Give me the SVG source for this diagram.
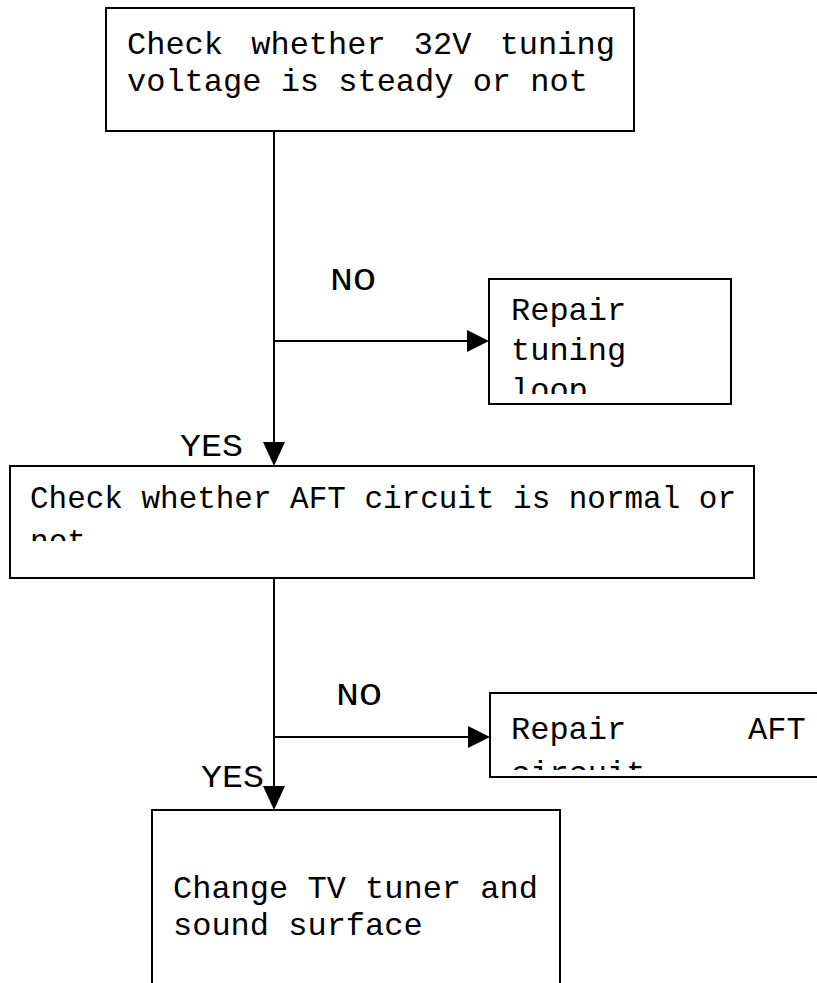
<svg xmlns="http://www.w3.org/2000/svg" width="817" height="983" viewBox="0 0 817 983">
<style>
.box{fill:#fff;stroke:#000;stroke-width:2}
.t{font-family:"Liberation Mono","Courier New",monospace;font-size:32px;fill:#000}
.lbl{font-family:"Liberation Mono","Courier New",monospace;font-size:31px;fill:#000}
.ln{stroke:#000;stroke-width:2;fill:none}
</style>
<defs>
<clipPath id="c2"><rect x="490" y="280" width="240" height="114"/></clipPath>
<clipPath id="c3"><rect x="11" y="467" width="742" height="74"/></clipPath>
<clipPath id="c4"><rect x="491" y="694" width="326" height="76"/></clipPath>
</defs>
<g id="connectors">
<line class="ln" x1="274" y1="131" x2="274" y2="444"/>
<path d="M263,442 L285,442 L274,466 Z" fill="#000"/>
<line class="ln" x1="274" y1="341" x2="468" y2="341"/>
<path d="M467,330 L489,341 L467,352 Z" fill="#000"/>
<line class="ln" x1="274" y1="578" x2="274" y2="788"/>
<path d="M263,786 L285,786 L274,810 Z" fill="#000"/>
<line class="ln" x1="274" y1="737" x2="469" y2="737"/>
<path d="M468,726 L490,737 L468,748 Z" fill="#000"/>
<text class="lbl" x="330" y="290" textLength="46" lengthAdjust="spacingAndGlyphs">NO</text>
<text class="lbl" x="180" y="456" textLength="63" lengthAdjust="spacingAndGlyphs">YES</text>
<text class="lbl" x="336" y="705" textLength="46" lengthAdjust="spacingAndGlyphs">NO</text>
<text class="lbl" x="201" y="787" textLength="63" lengthAdjust="spacingAndGlyphs">YES</text>
</g>
<g id="n1">
<rect class="box" x="106" y="8" width="528" height="123"/>
<text class="t" x="127" y="54" word-spacing="9">Check whether 32V tuning</text>
<text class="t" x="127" y="91">voltage is steady or not</text>
</g>
<g id="n2">
<rect class="box" x="489" y="279" width="242" height="125"/>
<g clip-path="url(#c2)">
<text class="t" x="511" y="320">Repair</text>
<text class="t" x="511" y="360">tuning</text>
<text class="t" x="511" y="400">loop</text>
</g>
</g>
<g id="n3">
<rect class="box" x="10" y="466" width="744" height="112"/>
<g clip-path="url(#c3)">
<text class="t" x="30" y="508" textLength="706" lengthAdjust="spacingAndGlyphs">Check whether AFT circuit is normal or</text>
<text class="t" x="30" y="551" textLength="56" lengthAdjust="spacingAndGlyphs">not</text>
</g>
</g>
<g id="n4">
<rect class="box" x="490" y="693" width="340" height="84"/>
<g clip-path="url(#c4)">
<text class="t" x="511" y="739">Repair</text>
<text class="t" x="748" y="739">AFT</text>
<text class="t" x="511" y="783">circuit</text>
</g>
</g>
<g id="n5">
<rect class="box" x="152" y="810" width="408" height="190"/>
<text class="t" x="173" y="898">Change TV tuner and</text>
<text class="t" x="173" y="935">sound surface</text>
</g>
</svg>
